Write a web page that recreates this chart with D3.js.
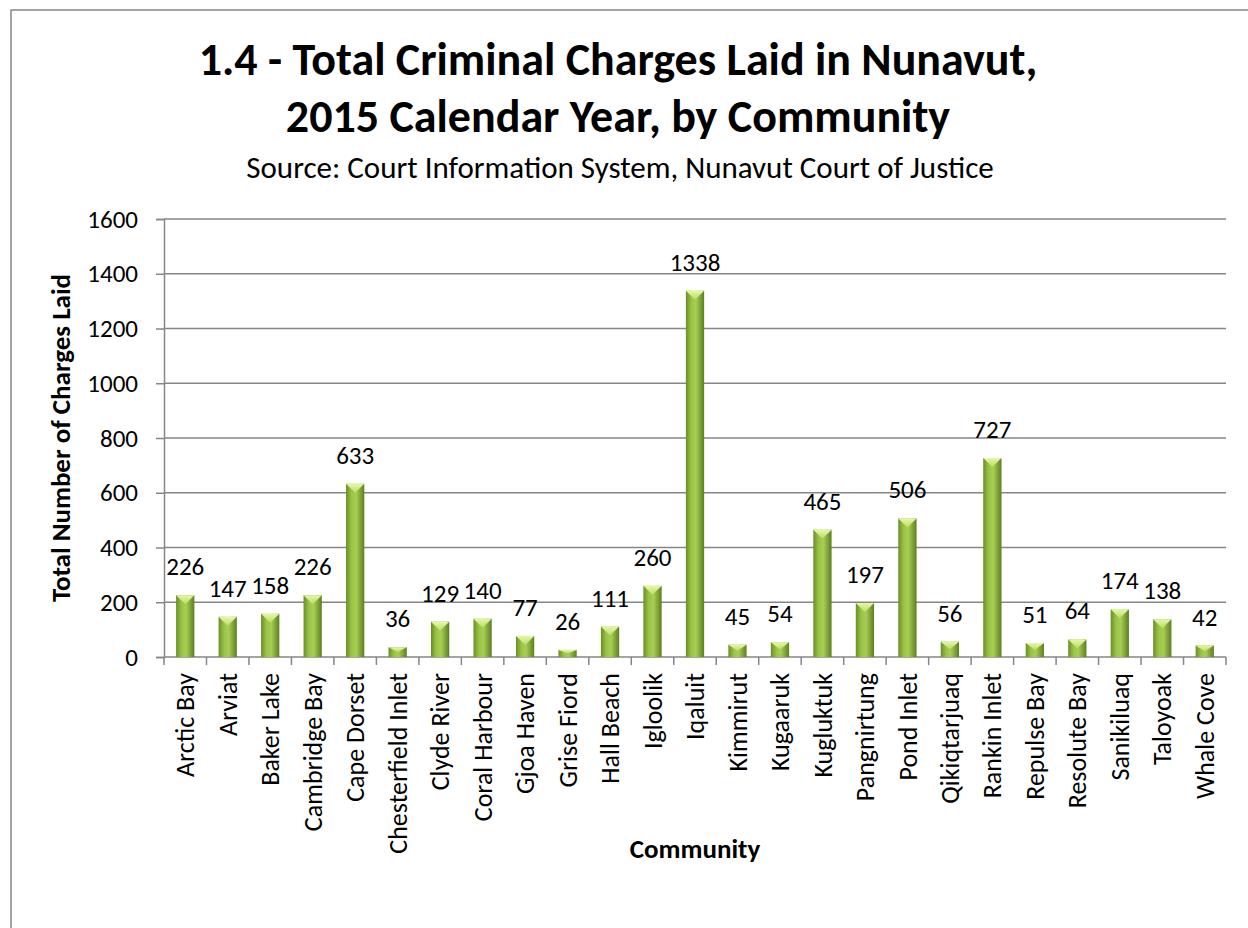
<!DOCTYPE html>
<html>
<head>
<meta charset="utf-8">
<script src="https://cdn.jsdelivr.net/npm/d3@7"></script>
<style>
  body { margin: 0; background: #fff; }
  svg { display: block; font-family: Carlito, Calibri, Lato, "Open Sans", sans-serif; }
</style>
</head>
<body>
<svg id="chart" width="1248" height="928"></svg>
<script>
// data
const communities = ['Arctic Bay', 'Arviat', 'Baker Lake', 'Cambridge Bay', 'Cape Dorset', 'Chesterfield Inlet',
  'Clyde River', 'Coral Harbour', 'Gjoa Haven', 'Grise Fiord', 'Hall Beach', 'Igloolik', 'Iqaluit', 'Kimmirut',
  'Kugaaruk', 'Kugluktuk', 'Pangnirtung', 'Pond Inlet', 'Qikiqtarjuaq', 'Rankin Inlet', 'Repulse Bay',
  'Resolute Bay', 'Sanikiluaq', 'Taloyoak', 'Whale Cove'];
const charges = [226, 147, 158, 226, 633, 36, 129, 140, 77, 26, 111, 260, 1338, 45, 54, 465, 197, 506, 56, 727, 51, 64, 174, 138, 42];
const yTicks = [0, 200, 400, 600, 800, 1000, 1200, 1400, 1600];

const titleLines = ['1.4 - Total Criminal Charges Laid in Nunavut,', '2015 Calendar Year, by Community'];
const subtitle = 'Source: Court Information System, Nunavut Court of Justice';

const svg = d3.select('#chart');
const margin = { top: 219, right: 22, bottom: 271, left: 164 };
const width = 1248 - margin.left - margin.right;
const height = 928 - margin.top - margin.bottom;

// outer chart border (runs off the right/bottom edge)
svg.append('rect')
  .attr('x', 11).attr('y', 10)
  .attr('width', 1260).attr('height', 940)
  .attr('fill', 'none')
  .attr('stroke', '#868686')
  .attr('stroke-width', 1.5);

// gradients
const defs = svg.append('defs');
const barGrad = defs.append('linearGradient').attr('id', 'barGrad')
  .attr('x1', '0%').attr('x2', '100%').attr('y1', '0%').attr('y2', '0%');
barGrad.append('stop').attr('offset', '0%').attr('stop-color', '#6a8e26');
barGrad.append('stop').attr('offset', '30%').attr('stop-color', '#9ac445');
barGrad.append('stop').attr('offset', '55%').attr('stop-color', '#a8ce55');
barGrad.append('stop').attr('offset', '100%').attr('stop-color', '#5c7f1f');

const topGrad = defs.append('linearGradient').attr('id', 'topGrad')
  .attr('x1', '0%').attr('x2', '0%').attr('y1', '0%').attr('y2', '100%');
topGrad.append('stop').attr('offset', '0%').attr('stop-color', '#e6f8a8');
topGrad.append('stop').attr('offset', '100%').attr('stop-color', '#b8dc66');

// titles
svg.selectAll('text.title')
  .data(titleLines)
  .enter()
  .append('text')
  .attr('class', 'title')
  .attr('x', 618)
  .attr('y', (d, i) => 75 + i * 57)
  .attr('text-anchor', 'middle')
  .style('font-size', '46px')
  .style('font-weight', 'bold')
  .text(d => d);

svg.append('text')
  .attr('x', 620)
  .attr('y', 178)
  .attr('text-anchor', 'middle')
  .style('font-size', '31px')
  .text(subtitle);

const g = svg.append('g')
  .attr('transform', `translate(${margin.left},${margin.top})`);

const x = d3.scaleBand()
  .domain(communities)
  .range([0, width])
  .paddingInner(0.57)
  .paddingOuter(0.285);

const y = d3.scaleLinear()
  .domain([0, 1600])
  .range([height, 0]);

// gridlines
g.append('g')
  .selectAll('line')
  .data(yTicks.slice(1))
  .enter()
  .append('line')
  .attr('x1', 0).attr('x2', width)
  .attr('y1', d => y(d)).attr('y2', d => y(d))
  .style('stroke', '#868686')
  .style('stroke-width', 1.5);

// y axis
const yAxis = g.append('g')
  .call(d3.axisLeft(y).tickValues(yTicks).tickSize(8).tickPadding(18).tickFormat(d3.format('d')));
yAxis.select('.domain').attr('stroke', '#868686').attr('stroke-width', 1.5);
yAxis.selectAll('.tick line').attr('stroke', '#868686').attr('stroke-width', 1.5);
yAxis.selectAll('.tick text')
  .style('font-size', '25px')
  .style('font-family', 'Carlito, Calibri, Lato, "Open Sans", sans-serif')
  .attr('fill', '#000');

// x axis with tick marks at band boundaries
const step = x.step();
g.append('line')
  .attr('x1', 0).attr('x2', width)
  .attr('y1', height).attr('y2', height)
  .style('stroke', '#868686')
  .style('stroke-width', 1.5);

g.append('g')
  .selectAll('line')
  .data(d3.range(communities.length + 1))
  .enter()
  .append('line')
  .attr('x1', i => i * step).attr('x2', i => i * step)
  .attr('y1', height).attr('y2', height + 8)
  .style('stroke', '#868686')
  .style('stroke-width', 1.5);

g.append('g')
  .selectAll('text')
  .data(communities)
  .enter()
  .append('text')
  .attr('transform', d => `translate(${x(d) + x.bandwidth() / 2},${height + 16}) rotate(-90)`)
  .attr('dy', '0.35em')
  .attr('text-anchor', 'end')
  .style('font-size', '26px')
  .text(d => d);

// bars
const bars = g.append('g')
  .selectAll('g')
  .data(communities)
  .enter()
  .append('g');

bars.append('rect')
  .attr('x', d => x(d))
  .attr('y', (d, i) => y(charges[i]))
  .attr('width', x.bandwidth())
  .attr('height', (d, i) => height - y(charges[i]))
  .attr('fill', 'url(#barGrad)');

// bevel top
bars.append('path')
  .attr('d', (d, i) => {
    const x0 = x(d), x1 = x(d) + x.bandwidth(), yt = y(charges[i]);
    const bevel = Math.min(9, (height - yt) / 2);
    return `M${x0},${yt}L${x1},${yt}L${(x0 + x1) / 2},${yt + bevel}Z`;
  })
  .attr('fill', 'url(#topGrad)');

// value labels
bars.append('text')
  .attr('x', d => x(d) + x.bandwidth() / 2)
  .attr('y', (d, i) => y(charges[i]) - 20)
  .attr('text-anchor', 'middle')
  .style('font-size', '25px')
  .text((d, i) => charges[i]);

// axis titles
svg.append('text')
  .attr('transform', `translate(70,${margin.top + height / 2}) rotate(-90)`)
  .attr('text-anchor', 'middle')
  .style('font-size', '27px')
  .style('font-weight', 'bold')
  .text('Total Number of Charges Laid');

svg.append('text')
  .attr('x', margin.left + width / 2)
  .attr('y', 858)
  .attr('text-anchor', 'middle')
  .style('font-size', '27px')
  .style('font-weight', 'bold')
  .text('Community');
</script>
</body>
</html>
